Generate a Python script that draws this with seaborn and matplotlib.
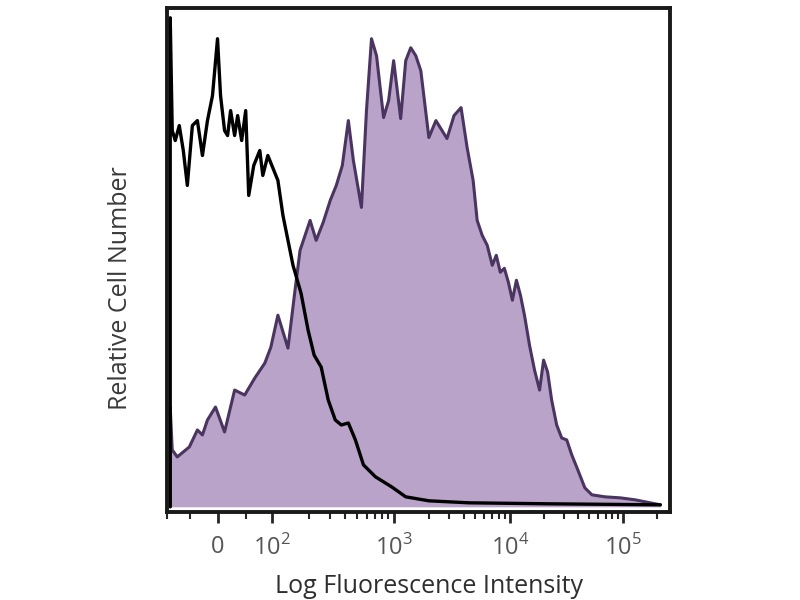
import numpy as np
import matplotlib.pyplot as plt
import seaborn as sns

# channel position (0-1000 display scale) and relative count
ctrl_x = [6, 6, 10, 16, 24, 32, 40, 50, 60, 70, 80, 90, 100, 106, 114, 120, 126, 134, 140, 148,
          156, 162, 172, 184, 190, 200, 212, 220, 230, 240, 250, 266, 280, 292, 306, 320, 334,
          346, 360, 374, 390, 414, 446, 474, 520, 600, 760, 980]
ctrl_y = [0, 98, 75.4, 73.4, 76.4, 71.4, 64.4, 76.4, 77.4, 70.4, 77.4, 82.4, 93.8, 82.4, 75.4,
          74.4, 79.4, 74.4, 78.4, 73.4, 79.4, 62.4, 68.4, 71.4, 66.4, 70.4, 67.4, 65.4, 58.4,
          53.4, 48.4, 42.8, 35.4, 30.4, 28, 21.4, 17.4, 16.4, 16.8, 13.4, 8.4, 6, 4, 2, 1.2,
          0.8, 0.6, 0.4]

stain_x = [6, 6, 10, 20, 32, 44, 60, 70, 80, 96, 114, 134, 154, 174, 194, 206, 220, 240, 254,
           264, 274, 284, 296, 310, 324, 336, 348, 360, 370, 386, 396, 406, 416, 430, 440, 450,
           464, 474, 484, 494, 504, 520, 534, 556, 570, 584, 596, 608, 616, 626, 636, 646, 654,
           662, 670, 678, 686, 694, 702, 710, 720, 730, 740, 748, 756, 764, 774, 784, 794, 804,
           816, 830, 844, 870, 900, 930, 960, 980]
stain_y = [0, 20, 11.4, 10, 11, 12, 15.4, 14.4, 17.4, 20, 15, 23.4, 22.4, 25.8, 28.8, 32, 38.4,
           31.8, 43.4, 51.4, 54.4, 57.4, 53.4, 57, 61.4, 64.4, 68.4, 77.4, 69.4, 60, 79.4, 93.8,
           90.4, 78, 81.4, 89.4, 77.8, 89.4, 92, 90.4, 87.4, 74, 77.4, 73.8, 78.4, 80, 72, 65.4,
           57.4, 54.4, 52.4, 48.4, 50.4, 47, 47.8, 45, 41.4, 45.4, 42.4, 38.4, 32.4, 27.4, 23.4,
           29.4, 27, 21.4, 16.4, 13.8, 13.4, 10.4, 7.4, 3.8, 2.4, 2, 1.8, 1.4, 0.8, 0.4]

tick_pos = [100, 208, 450, 682, 906]
tick_labels = ['0', '$10^2$', '$10^3$', '$10^4$', '$10^5$']

sns.set_style('white')
plt.rcParams['font.family'] = ['Open Sans', 'DejaVu Sans']
plt.rcParams['mathtext.fontset'] = 'custom'
plt.rcParams['mathtext.rm'] = 'Open Sans'

fig = plt.figure(figsize=(8, 6), dpi=100)
ax = fig.add_axes([0.209, 0.147, 0.629, 0.84])

ax.fill_between(stain_x, stain_y, 0, color='#b9a3c9', lw=0)
sns.lineplot(x=stain_x, y=stain_y, sort=False, estimator=None, color='#4a3460', lw=2.2, ax=ax)
sns.lineplot(x=ctrl_x, y=ctrl_y, sort=False, estimator=None, color='black', lw=2.4, ax=ax)

ax.set_xlim(0, 1000)
ax.set_ylim(-1, 100)
ax.set_yticks([])

# minor ticks: a few near zero plus 2..9 inside each decade
minor = [0, 46, 156]
for a, b in zip(tick_pos[1:-1], tick_pos[2:]):
    minor += [a + np.log10(m) * (b - a) for m in range(2, 10)]
minor += [906 + np.log10(m) * 224 for m in range(2, 5)]
ax.set_xticks(tick_pos)
ax.set_xticklabels(tick_labels, fontsize=17, color='#555555')
ax.set_xticks([m for m in minor if m < 1000], minor=True)
ax.tick_params(axis='x', which='major', direction='out', length=8, width=2, bottom=True, pad=9)
ax.tick_params(axis='x', which='minor', direction='out', length=5, width=1.5, bottom=True)

for s in ax.spines.values():
    s.set_color('#1a1a1a')
    s.set_linewidth(2.8)

ax.set_xlabel('Log Fluorescence Intensity', fontsize=18, color='#2e2e2e')
ax.set_ylabel('Relative Cell Number', fontsize=18, color='#3a3a3a')
ax.xaxis.set_label_coords(0.52, -0.123)
ax.yaxis.set_label_coords(-0.068, 0.444)

fig.savefig('out.png', dpi=100)
